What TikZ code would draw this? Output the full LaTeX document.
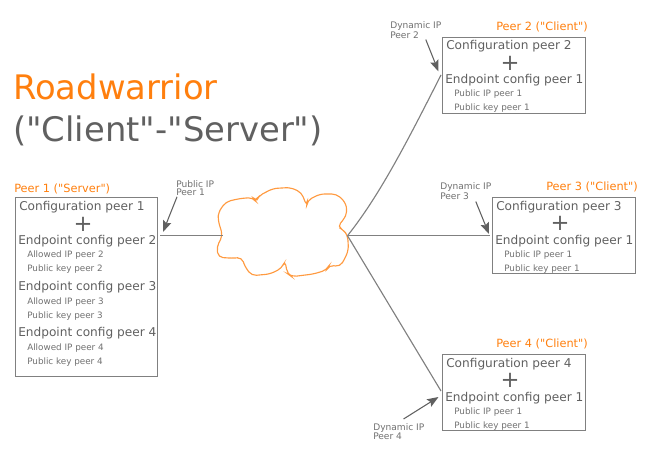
\documentclass[tikz,border=0pt]{standalone}
\usepackage{fontspec}
\setmainfont{DejaVu Sans}[Ligatures=TeXOff]
\usetikzlibrary{arrows.meta}
\definecolor{wgorange}{HTML}{FF7F0E}
\definecolor{wgcloud}{HTML}{FF9A40}
\definecolor{wgtext}{HTML}{606060}
\definecolor{wgsmall}{HTML}{707070}
\definecolor{wgline}{HTML}{808080}
\tikzset{
	peerbox/.style = {draw=wgline, line width=1.05pt, anchor=north west, inner sep=0pt},
	peername/.style = {wgorange, anchor=base west, inner sep=0pt, font=\fontsize{8.5}{11}\selectfont},
	cfgtext/.style = {wgtext, anchor=base west, inner sep=0pt, font=\fontsize{9.1}{11}\selectfont},
	keytext/.style = {wgsmall, anchor=base west, inner sep=0pt, font=\fontsize{6.6}{8}\selectfont},
	plustext/.style = {wgtext, inner sep=0pt, font=\fontsize{17}{18}\selectfont},
	iptext/.style = {wgsmall, anchor=north west, align=left, inner sep=0pt,
		font=\fontsize{6.8}{6.2}\selectfont},
	titletext/.style = {anchor=base west, inner sep=0pt, font=\fontsize{25.35}{30}\selectfont},
	link/.style = {wgline, line width=0.85pt},
	iparrow/.style = {-{Stealth[length=8.5pt,width=6.5pt,inset=1.5pt]}, wgtext, line width=0.8pt}
}
\begin{document}
\begin{tikzpicture}[x=0.75pt,y=-0.75pt]
	\useasboundingbox (0,0) rectangle (650,460);
	% title
	\node[titletext, wgorange] (title) at (13,99.5) {Roadwarrior};
	\node[titletext, wgtext] (subtitle) at (13,141.5) {("Client"-"Server")};
	% cloud
	\draw[wgcloud, line width=0.85pt, fill=white, rounded corners=3.5pt]
		(222.7,235.7) -- (218,220) -- (218.5,212) -- (226,201.7) -- (240,198.5) -- (253,197.5)
		-- (256,201.7) -- (258.5,196) -- (273,188.5) -- (290.5,187.5) -- (301.5,192.5)
		-- (306.7,206) -- (307.3,200.5) -- (320,194) -- (336.5,194) -- (345,201.7) -- (347.5,211.7)
		-- (343.5,220) -- (337.3,226.5) -- (343.5,230) -- (347.7,235.7) -- (348.5,250)
		-- (345,258.3) -- (340,266.7) -- (329.3,265) -- (326.7,270) -- (313.5,274)
		-- (291.7,276.7) -- (287.3,273.5) -- (285,260.7) -- (281.7,268.3) -- (270,274)
		-- (251.7,275.7) -- (245,266.7) -- (241.7,257.3) -- (233.5,258.3) -- (218.3,257.3)
		-- (216.7,246.7) -- cycle;
	\coordinate (cloudw) at (222.7,235.7);
	\coordinate (cloude) at (347.5,235.7);
	% peer 1
	\node[peerbox, minimum width=142*0.75pt, minimum height=179*0.75pt] (peer1) at (15,197) {};
	\node[peername] (name1) at (14,192) {Peer 1 ("Server")};
	\node[cfgtext] (conf1) at (19,210) {Configuration peer 1};
	\node[plustext] (plus1) at (83,224) {+};
	\node[cfgtext] (endp12) at (18,244) {Endpoint config peer 2};
	\node[keytext] (ip12) at (27,257) {Allowed IP peer 2};
	\node[keytext] (key12) at (27,271) {Public key peer 2};
	\node[cfgtext] (endp13) at (18,290.5) {Endpoint config peer 3};
	\node[keytext] (ip13) at (27,304) {Allowed IP peer 3};
	\node[keytext] (key13) at (27,318) {Public key peer 3};
	\node[cfgtext] (endp14) at (18,336.5) {Endpoint config peer 4};
	\node[keytext] (ip14) at (27,350) {Allowed IP peer 4};
	\node[keytext] (key14) at (27,364) {Public key peer 4};
	% peers 2, 3 and 4
	\foreach \n/\x/\y in {2/442/37, 3/492/197, 4/442/354}{
		\node[peerbox, minimum width=143*0.75pt, minimum height=76*0.75pt] (peer\n) at (\x,\y) {};
		\node[peername] (name\n) at (\x+54,\y-6.5) {Peer \n{} ("Client")};
		\node[cfgtext] (conf\n) at (\x+4,\y+13) {Configuration peer \n};
		\node[plustext] (plus\n) at (\x+68,\y+26) {+};
		\node[cfgtext] (endp\n) at (\x+3,\y+47) {Endpoint config peer 1};
		\node[keytext] (ip\n) at (\x+12,\y+60) {Public IP peer 1};
		\node[keytext] (key\n) at (\x+12,\y+74) {Public key peer 1};
	}
	% links
	\coordinate (in1) at (160,235.7);
	\coordinate (in2) at (441,75);
	\coordinate (in3) at (490,235.7);
	\coordinate (in4) at (441,391);
	\draw[link] (in1) -- (cloudw);
	\draw[link] (cloude) .. controls (380,195) and (408,140) .. (in2);
	\draw[link] (cloude) -- (in3);
	\draw[link] (cloude) -- (in4);
	% ip labels
	\node[iptext] (lab1) at (176,180) {Public IP\\Peer 1};
	\node[iptext] (lab2) at (390,21) {Dynamic IP\\Peer 2};
	\node[iptext] (lab3) at (440,182) {Dynamic IP\\Peer 3};
	\node[iptext] (lab4) at (373,423) {Dynamic IP\\Peer 4};
	\coordinate (tip1) at (163,232);
	\coordinate (tip2) at (438.5,71.5);
	\coordinate (tip3) at (489,234);
	\coordinate (tip4) at (438.5,397);
	\draw[iparrow] (lab1.south west) ++(1,1) -- (tip1);
	\draw[iparrow] (lab2.south) ++(10,1) -- (tip2);
	\draw[iparrow] (lab3.south) ++(10,2) -- (tip3);
	\draw[iparrow] (lab4.north east) ++(-21,-4) -- (tip4);
\end{tikzpicture}
\end{document}
